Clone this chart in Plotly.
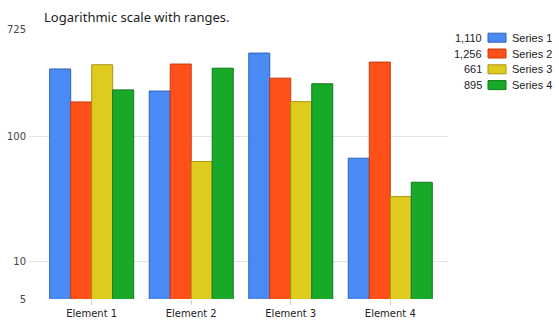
import plotly.graph_objects as go

categories = ["Element 1", "Element 2", "Element 3", "Element 4"]
series_names = ["Series 1", "Series 2", "Series 3", "Series 4"]
series_1 = [347, 231, 465, 67]
series_2 = [189, 380, 293, 394]
series_3 = [375, 63, 190, 33]
series_4 = [236, 352, 264, 43]
y_tick_vals = [5, 10, 100, 725]
y_tick_text = ["5", "10", "100", "725"]

all_series = [series_1, series_2, series_3, series_4]
fills = ["#4a8af4", "#ff5019", "#dfcb1e", "#18a928"]
borders = ["#2f62b8", "#c53b0e", "#a8960e", "#0f7a1c"]

W, H = 559, 325
L, R, T, B = 29, 111, 29, 26
pw, ph = W - L - R, H - T - B

def xp(px):
    return (px - L) / pw

def yp(py):
    return (H - B - py) / ph

fig = go.Figure()
for name, vals, fc, bc in zip(series_names, all_series, fills, borders):
    fig.add_trace(go.Bar(
        x=categories, y=vals, name=name,
        marker=dict(color=fc, line=dict(color=bc, width=1)),
    ))

shapes = []
annotations = [dict(xref="paper", yref="paper", x=xp(42), y=yp(16.5),
                    xanchor="left", yanchor="middle", showarrow=False,
                    text="Logarithmic scale with ranges.",
                    font=dict(family="Noto Sans", size=13, color="#222222"))]
for i, (name, vals, fc, bc) in enumerate(zip(series_names, all_series, fills, borders)):
    cy = 37.7 + 15.8 * i
    shapes.append(dict(type="rect", xref="paper", yref="paper",
                       x0=xp(488), x1=xp(506), y0=yp(cy + 4.5), y1=yp(cy - 4.5),
                       fillcolor=fc, line=dict(color=bc, width=1)))
    annotations.append(dict(xref="paper", yref="paper", x=xp(484), y=yp(cy),
                            xanchor="right", yanchor="middle", showarrow=False,
                            text=f"{sum(vals):,}",
                            font=dict(family="Liberation Sans", size=11, color="#222222")))
    annotations.append(dict(xref="paper", yref="paper", x=xp(510), y=yp(cy),
                            xanchor="left", yanchor="middle", showarrow=False,
                            text=name,
                            font=dict(family="Liberation Sans", size=11, color="#222222")))

fig.update_layout(
    width=W, height=H,
    margin=dict(l=L, r=R, t=T, b=B, pad=0, autoexpand=False),
    paper_bgcolor="white", plot_bgcolor="white",
    barmode="group", bargap=0.156, bargroupgap=0,
    showlegend=False,
    xaxis=dict(range=[-0.63, 3.58], showgrid=False, zeroline=False, showline=False,
               automargin=False,
               ticks="outside", ticklen=5, tickcolor="#d0d0d0", ticklabelstandoff=0,
               tickfont=dict(family="DejaVu Sans", size=10, color="#222222")),
    yaxis=dict(type="log", range=[0.69897, 2.86034], tickvals=y_tick_vals, ticktext=y_tick_text,
               automargin=False,
               showgrid=True, gridcolor="#e3e3e3", gridwidth=1, zeroline=False, showline=False,
               ticks="", ticklabelstandoff=2,
               tickfont=dict(family="DejaVu Sans", size=10, color="#444444")),
    shapes=shapes, annotations=annotations,
)

fig.write_html("out.html")
